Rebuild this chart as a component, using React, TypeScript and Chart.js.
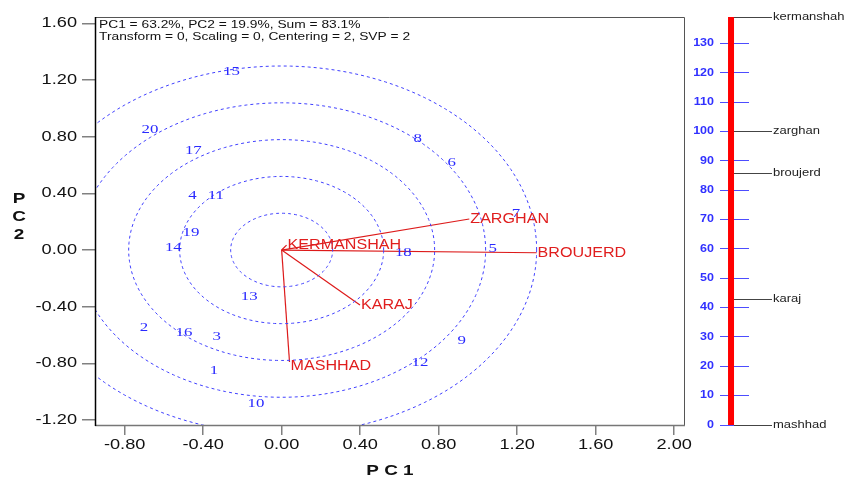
import React, { useEffect, useRef } from "react";
import { Chart, registerables } from "chart.js";

Chart.register(...registerables);

// ---------------- data ----------------
const infoLines = [
  "PC1 = 63.2%, PC2 = 19.9%, Sum = 83.1%",
  "Transform = 0, Scaling = 0, Centering = 2, SVP = 2",
];

const envNames = ["KERMANSHAH", "ZARGHAN", "BROUJERD", "KARAJ", "MASHHAD"];
const envPC1 = [0.025, 0.956, 1.299, 0.399, 0.04];
const envPC2 = [0.035, 0.219, -0.019, -0.388, -0.79];

const genoLabels = ["1", "2", "3", "4", "5", "6", "7", "8", "9", "10", "11", "12", "13", "14", "15", "16", "17", "18", "19", "20"];
const genoPC1 = [-0.345, -0.702, -0.331, -0.454, 1.075, 0.866, 1.194, 0.693, 0.917, -0.131, -0.335, 0.705, -0.165, -0.552, -0.255, -0.498, -0.45, 0.62, -0.462, -0.671];
const genoPC2 = [-0.847, -0.548, -0.612, 0.383, 0.012, 0.619, 0.259, 0.788, -0.64, -1.082, 0.388, -0.79, -0.325, 0.016, 1.264, -0.581, 0.701, -0.016, 0.122, 0.854];

const xTicks = [-0.8, -0.4, 0.0, 0.4, 0.8, 1.2, 1.6, 2.0];
const yTicks = [-1.2, -0.8, -0.4, 0.0, 0.4, 0.8, 1.2, 1.6];
const xRange = [-0.951, 2.055];
const yRange = [-1.235, 1.645];
const ringCount = 5;

const rankNames = ["kermanshah", "zarghan", "broujerd", "karaj", "mashhad"];
const rankValues = [139, 100, 86, 43, 0];
const rankTicks = [0, 10, 20, 30, 40, 50, 60, 70, 80, 90, 100, 110, 120, 130];
const rankMax = 139;

// ---------------- helpers ----------------
function drawText(
  ctx: CanvasRenderingContext2D,
  s: string,
  x: number,
  y: number,
  font: string,
  color: string,
  align: "left" | "center" | "right",
  sx: number
) {
  ctx.save();
  ctx.font = font;
  ctx.fillStyle = color;
  ctx.textBaseline = "middle";
  ctx.textAlign = "left";
  const w = ctx.measureText(s).width * sx;
  const x0 = align === "left" ? x : align === "center" ? x - w / 2 : x - w;
  ctx.translate(x0, y);
  ctx.scale(sx, 1);
  ctx.fillText(s, 0, 0);
  ctx.restore();
}

const SANS = '"Liberation Sans", Arial, sans-serif';
const SERIF = '"Liberation Serif", "Times New Roman", serif';

function App() {
  const mainRef = useRef<HTMLCanvasElement>(null);
  const sideRef = useRef<HTMLCanvasElement>(null);

  useEffect(() => {
    // rings: outer ring passes through the longest environment vector
    let maxLen = 0;
    envPC1.forEach((v, i) => {
      maxLen = Math.max(maxLen, Math.hypot(v, envPC2[i]));
    });
    const ringStep = maxLen / ringCount;
    const ringDatasets: any[] = [];
    for (let k = 1; k <= ringCount; k++) {
      const r = ringStep * k;
      const pts: { x: number; y: number }[] = [];
      for (let a = 0; a <= 360; a += 2) {
        const t = (a * Math.PI) / 180;
        pts.push({ x: r * Math.cos(t), y: r * Math.sin(t) });
      }
      ringDatasets.push({
        data: pts,
        showLine: true,
        pointRadius: 0,
        borderColor: "#4040ff",
        borderWidth: 1,
        borderDash: [3, 3],
        tension: 0,
      });
    }
    const vectorDatasets = envNames.map((_, i) => ({
      data: [
        { x: 0, y: 0 },
        { x: envPC1[i], y: envPC2[i] },
      ],
      showLine: true,
      pointRadius: 0,
      borderColor: "#dd1a1a",
      borderWidth: 1.2,
    }));
    const genoDataset = {
      data: genoLabels.map((_, i) => ({ x: genoPC1[i], y: genoPC2[i] })),
      pointRadius: 0,
      showLine: false,
    };

    const mainPlugin = {
      id: "biplotText",
      afterDraw(chart: any) {
        const { ctx, chartArea: a, scales } = chart;
        const xs = scales.x;
        const ys = scales.y;
        ctx.save();
        // frame
        ctx.strokeStyle = "#555";
        ctx.lineWidth = 1;
        ctx.beginPath();
        ctx.moveTo(a.left, a.top + 0.5);
        ctx.lineTo(a.right - 0.5, a.top + 0.5);
        ctx.lineTo(a.right - 0.5, a.bottom);
        ctx.stroke();
        ctx.strokeStyle = "#777";
        ctx.lineWidth = 1.5;
        ctx.beginPath();
        ctx.moveTo(a.left, a.bottom + 0.5);
        ctx.lineTo(a.right, a.bottom + 0.5);
        ctx.stroke();
        ctx.strokeStyle = "#000";
        ctx.lineWidth = 1.5;
        ctx.beginPath();
        ctx.moveTo(a.left + 0.5, a.top);
        ctx.lineTo(a.left + 0.5, a.bottom + 1);
        ctx.stroke();
        ctx.restore();

        // genotype labels
        genoLabels.forEach((g, i) => {
          drawText(ctx, g, xs.getPixelForValue(genoPC1[i]), ys.getPixelForValue(genoPC2[i]), `13.5px ${SERIF}`, "#2a2aff", "center", 1.25);
        });
        // environment labels
        envNames.forEach((n, i) => {
          const dy = n === "MASHHAD" ? 4 : 0;
          drawText(ctx, n, xs.getPixelForValue(envPC1[i]) + 1, ys.getPixelForValue(envPC2[i]) + dy, `14px ${SANS}`, "#e01e1e", "left", 1.15);
        });
        // tick labels
        yTicks.forEach((v) => {
          drawText(ctx, v.toFixed(2), ys.right - 18, ys.getPixelForValue(v), `14px ${SANS}`, "#111", "right", 1.3);
        });
        xTicks.forEach((v) => {
          drawText(ctx, v.toFixed(2), xs.getPixelForValue(v), xs.top + 20, `14px ${SANS}`, "#111", "center", 1.3);
        });
        // axis titles
        drawText(ctx, "P C 1", (a.left + a.right) / 2, 471, `bold 14px ${SANS}`, "#111", "center", 1.35);
        const midY = (a.top + a.bottom) / 2 - 4;
        ["P", "C", "2"].forEach((c, i) => {
          drawText(ctx, c, 19, midY + (i - 1) * 18, `bold 14px ${SANS}`, "#111", "center", 1.35);
        });
        // info text
        infoLines.forEach((l, i) => {
          drawText(ctx, l, a.left + 4, a.top + 8 + i * 12, `10.6px ${SANS}`, "#111", "left", 1.3);
        });
      },
    };

    const main = new Chart(mainRef.current as HTMLCanvasElement, {
      type: "scatter",
      data: { datasets: [...ringDatasets, ...vectorDatasets, genoDataset] as any },
      options: {
        responsive: false,
        animation: false,
        devicePixelRatio: 1,
        layout: { padding: { left: 0, right: 163, top: 17, bottom: 0 } },
        plugins: { legend: { display: false }, tooltip: { enabled: false } },
        scales: {
          x: {
            type: "linear",
            min: xRange[0],
            max: xRange[1],
            afterFit: (s: any) => {
              s.height = 54;
            },
            afterBuildTicks: (s: any) => {
              s.ticks = xTicks.map((v) => ({ value: v }));
            },
            ticks: { display: false },
            border: { display: false },
            grid: { drawOnChartArea: false, drawTicks: true, tickLength: 10, color: "#808080", lineWidth: 1.5 },
          },
          y: {
            type: "linear",
            min: yRange[0],
            max: yRange[1],
            afterFit: (s: any) => {
              s.width = 95;
            },
            afterBuildTicks: (s: any) => {
              s.ticks = yTicks.map((v) => ({ value: v }));
            },
            ticks: { display: false },
            border: { display: false },
            grid: { drawOnChartArea: false, drawTicks: true, tickLength: 13, color: "#808080", lineWidth: 1.5 },
          },
        },
      } as any,
      plugins: [mainPlugin],
    });

    const sidePlugin = {
      id: "rankText",
      afterDraw(chart: any) {
        const { ctx, chartArea: a, scales } = chart;
        const ys = scales.y;
        const xs = scales.x;
        rankTicks.forEach((v) => {
          drawText(ctx, String(v), a.left - 6, ys.getPixelForValue(v), `bold 10px ${SANS}`, "#3030ff", "right", 1.25);
        });
        const barRight = xs.getPixelForValue(0.38) + 3;
        ctx.save();
        ctx.strokeStyle = "#444";
        ctx.lineWidth = 1;
        rankNames.forEach((n, i) => {
          const py = Math.round(ys.getPixelForValue(rankValues[i])) + 0.5;
          ctx.beginPath();
          ctx.moveTo(barRight, py);
          ctx.lineTo(772, py);
          ctx.stroke();
          drawText(ctx, n, 773, py, `10px ${SANS}`, "#222", "left", 1.3);
        });
        ctx.restore();
      },
    };

    const side = new Chart(sideRef.current as HTMLCanvasElement, {
      type: "scatter",
      data: {
        datasets: [
          {
            data: [
              { x: 0.38, y: 0 },
              { x: 0.38, y: rankValues[0] },
            ],
            showLine: true,
            pointRadius: 0,
            borderColor: "#ff0000",
            borderWidth: 6,
            borderCapStyle: "butt",
            clip: false,
          },
        ] as any,
      },
      options: {
        responsive: false,
        animation: false,
        devicePixelRatio: 1,
        layout: { padding: { left: 720, right: 99, top: 17, bottom: 54 } },
        plugins: { legend: { display: false }, tooltip: { enabled: false } },
        scales: {
          x: { type: "linear", min: 0, max: 1, display: false },
          y: {
            type: "linear",
            min: 0,
            max: rankMax,
            afterFit: (s: any) => {
              s.width = 0;
            },
            afterBuildTicks: (s: any) => {
              s.ticks = rankTicks.map((v) => ({ value: v }));
            },
            ticks: { display: false },
            border: { display: false },
            grid: { drawTicks: false, color: "#4d4dff", lineWidth: 1 },
          },
        },
      } as any,
      plugins: [sidePlugin],
    });

    return () => {
      main.destroy();
      side.destroy();
    };
  }, []);

  return (
    <div style={{ position: "absolute", left: 0, top: 0, width: 848, height: 479, background: "#fff" }}>
      <canvas ref={mainRef} width={848} height={479} style={{ position: "absolute", left: 0, top: 0 }} />
      <canvas ref={sideRef} width={848} height={479} style={{ position: "absolute", left: 0, top: 0 }} />
    </div>
  );
}

export default App;
